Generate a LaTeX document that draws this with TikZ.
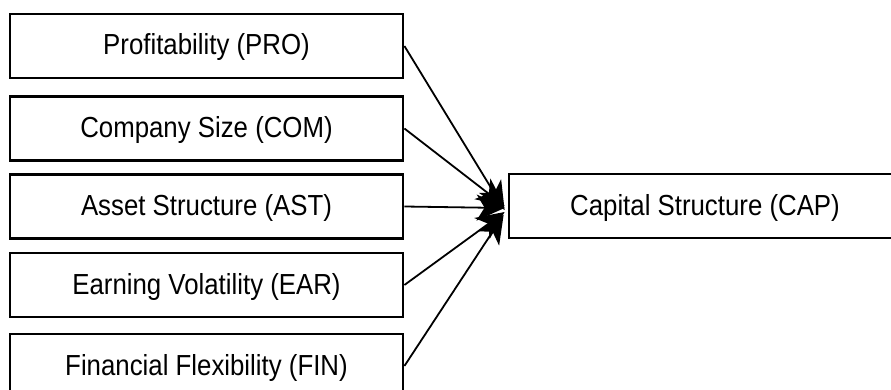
\documentclass[tikz,border=0pt]{standalone}
\usepackage{fontspec}
\setmainfont{Liberation Sans}[FakeStretch=0.89]
\usetikzlibrary{arrows.meta,calc}
\begin{document}
\begin{tikzpicture}[x=1pt,y=-1pt,
  box/.style={draw=black, line width=2.8pt, minimum width=393pt, minimum height=64pt,
    inner sep=0pt, font=\fontsize{29}{35}\selectfont, text height=21pt, text depth=3pt},
  capbox/.style={box, minimum width=392pt},
  conn/.style={line width=1.8pt, -{Stealth[length=28pt, width=26pt, inset=8pt]}}]
\useasboundingbox (0,0) rectangle (891,390);
\clip (0,0) rectangle (891,390);
\fill[white] (0,0) rectangle (891,390);
\node[box] (pro) at (206.5,46) {Profitability (PRO)};
\node[box] (com) at (206.5,128.5) {Company Size (COM)};
\node[box] (ast) at (206.5,206.5) {Asset Structure (AST)};
\node[box] (ear) at (206.5,285) {Earning Volatility (EAR)};
\node[box] (fin) at (206.5,366) {Financial Flexibility (FIN)};
\node[capbox] (cap) at (705,206) {Capital Structure (CAP)};
\draw[conn] (pro.east) -- ($(cap.west)+(-3,4)$);
\draw[conn] (com.east) -- ($(cap.west)+(-3,0)$);
\draw[conn] (ast.east) -- ($(cap.west)+(-3,2)$);
\draw[conn] (ear.east) -- ($(cap.west)+(-3,6)$);
\draw[conn] (fin.east) -- ($(cap.west)+(-4,9)$);
\end{tikzpicture}
\end{document}
